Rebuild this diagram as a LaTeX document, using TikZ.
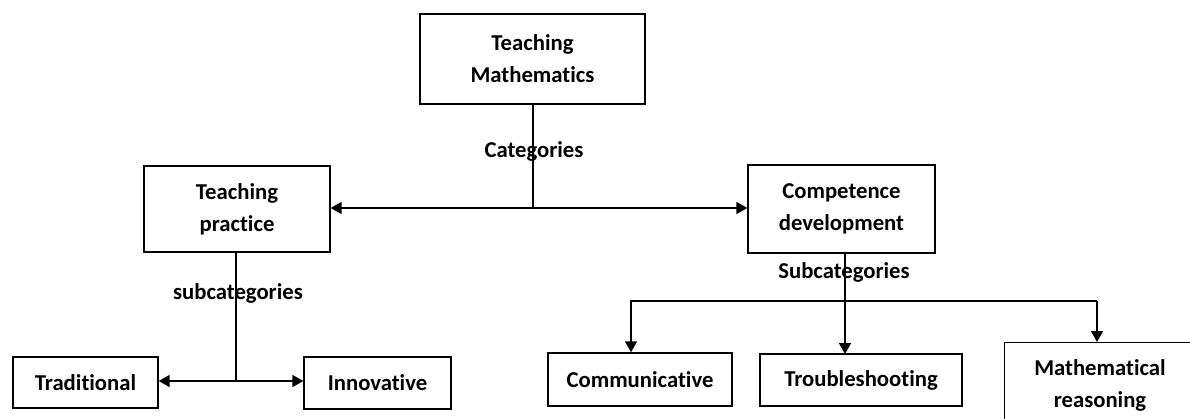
\documentclass[tikz,border=0pt]{standalone}
\usepackage{fontspec}
\setmainfont[Ligatures=NoCommon]{Carlito}
\usetikzlibrary{arrows.meta}
\begin{document}
\begin{tikzpicture}[x=1pt,y=-1pt,
  box/.style={draw, line width=1.3pt, inner sep=0pt, align=center,
    font=\bfseries\fontsize{22.7}{32}\selectfont},
  lbl/.style={inner sep=0pt, font=\bfseries\fontsize{22.7}{32}\selectfont},
  conn/.style={line width=1.5pt},
  tip/.style={-{Triangle[length=11pt,width=12pt]}},
  dtip/.style={{Triangle[length=11pt,width=12pt]}-{Triangle[length=11pt,width=12pt]}}]
\clip (0,0) rectangle (1190,418);
\fill[white] (0,0) rectangle (1190,418);
% boxes
\node[box, minimum width=225pt, minimum height=90pt] (tm) at (532.5,59) {Teaching\\Mathematics};
\node[box, minimum width=186pt, minimum height=86pt] (tp) at (237,209) {Teaching\\practice};
\node[box, minimum width=187pt, minimum height=88pt] (cd) at (841.5,209) {Competence\\development};
\node[box, minimum width=145pt, minimum height=51pt] (trad) at (85.5,382.5) {Traditional};
\node[box, minimum width=147pt, minimum height=52pt] (inn) at (377.5,383) {Innovative};
\node[box, minimum width=184pt, minimum height=53pt] (com) at (640,379.5) {Communicative};
\node[box, minimum width=202pt, minimum height=52pt] (tro) at (861,380) {Troubleshooting};
\node[box, minimum width=192pt, minimum height=90pt, anchor=north west] (mr) at (1004,342) {};
\node[lbl, align=center] (mrt) at (1100,385) {Mathematical\\reasoning};
% junction coordinates
\coordinate (j1) at (533,208);
\coordinate (j2) at (236,381);
\coordinate (hl) at (631,301);
\coordinate (hr) at (1097,301);
% connectors
\draw[conn] (tm.south -| j1) -- (j1);
\draw[conn, dtip] (tp.east |- j1) -- (cd.west |- j1);
\draw[conn] (tp.south -| j2) -- (j2);
\draw[conn, tip] (j2) -- (trad.east |- j2);
\draw[conn, tip] (j2) -- (inn.west |- j2);
\draw[conn, tip] (845,253) -- (845,354);
\draw[conn, tip] (hr) -- (hl) -- (com.north -| hl);
\draw[conn, tip] (hr) -- (mr.north -| hr);
% labels
\node[lbl] (cat) at (534,151) {Categories};
\node[lbl] (sub1) at (238,293) {subcategories};
\node[lbl] (sub2) at (844,272) {Subcategories};
\end{tikzpicture}
\end{document}
